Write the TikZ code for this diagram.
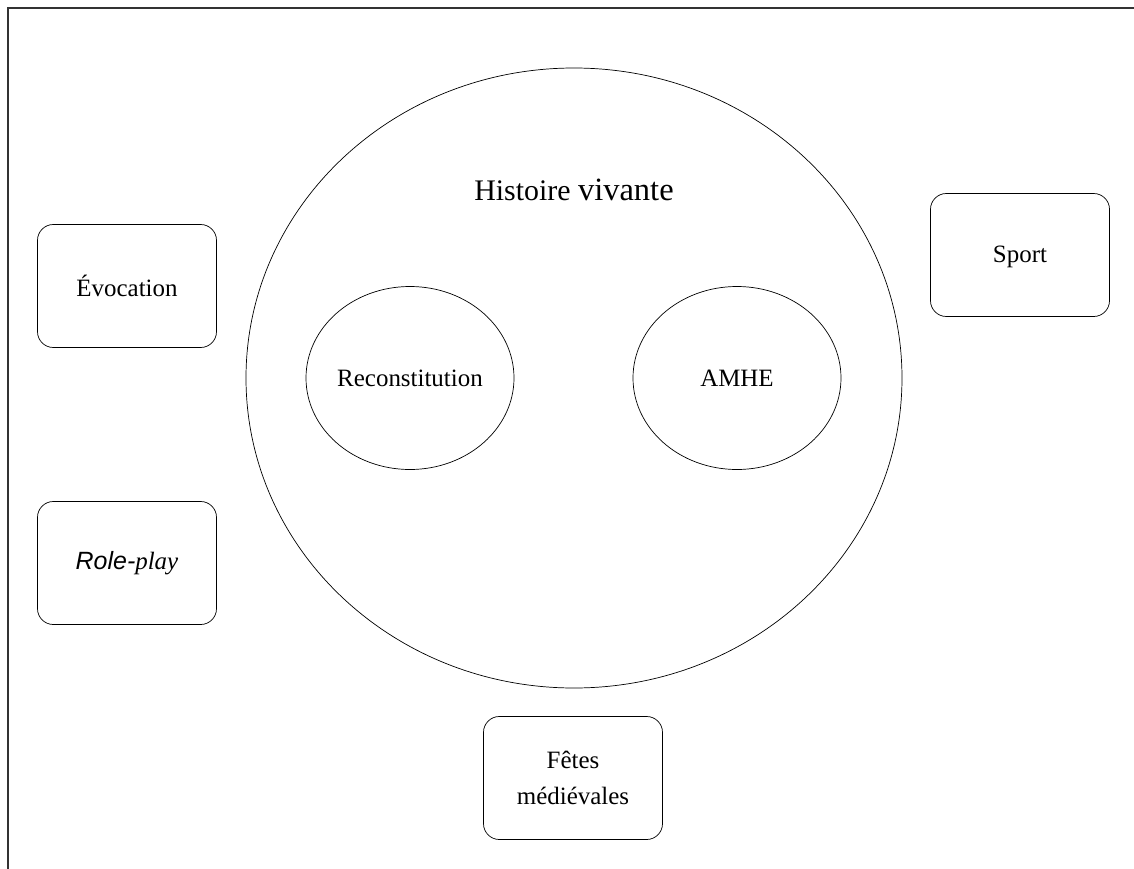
\documentclass[tikz,border=0pt]{standalone}
\usepackage{fontspec}
\setmainfont{Liberation Serif}
\newfontfamily\arialf{Liberation Sans}
\usetikzlibrary{shapes.geometric}
\begin{document}
\begin{tikzpicture}[x=0.02cm,y=-0.02cm]
      \useasboundingbox (0,0) rectangle (1134,869);
      \coordinate (tl) at (8,8);
      \coordinate (tr) at (1134,8);
      \coordinate (bl) at (8,869);
      \draw[line width=0.9pt,black!80] (tr) -- (tl) -- (bl);
      \node[ellipse,draw,thin,inner sep=0pt,minimum width=656*0.02cm,minimum height=620*0.02cm] (hv) at (574,378) {};
      \node (title) at (574,190) {\fontsize{17}{20}\selectfont Histoire \fontsize{18.5}{20}\selectfont vivante};
      \begin{scope}[every node/.style={draw,thin,rounded corners=9pt,minimum width=179*0.02cm,minimum height=123*0.02cm,align=center,font=\fontsize{14.2}{20}\selectfont}]
        \node (evo) at (127,286) {Évocation};
        \node (role) at (127,563) {{\arialf\itshape Role-}\textit{play}};
        \node (sport) at (1020,255) {\strut Sport};
        \node (fetes) at (573,778) {Fêtes\\médiévales};
      \end{scope}
      \begin{scope}[every node/.style={ellipse,draw,thin,minimum width=208*0.02cm,minimum height=183*0.02cm,inner sep=0pt,font=\fontsize{14.2}{20}\selectfont}]
        \node (rec) at (410,378) {Reconstitution};
        \node (amhe) at (737,378) {AMHE};
      \end{scope}
    \end{tikzpicture}
\end{document}
